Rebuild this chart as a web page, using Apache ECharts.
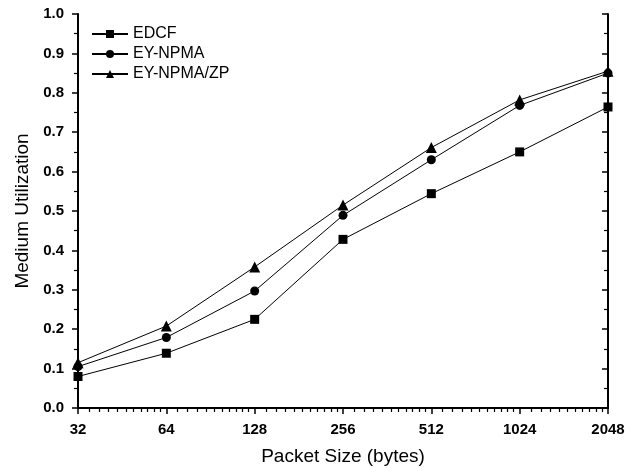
<!DOCTYPE html>
<html>
<head>
<meta charset="utf-8">
<title>Medium Utilization</title>
<script src="https://cdn.jsdelivr.net/npm/echarts@6/dist/echarts.min.js"></script>
<style>
  body { margin: 0; background: #fff; }
  #main { width: 634px; height: 468px; }
</style>
</head>
<body>
<div id="main"></div>
<script>
// packet sizes (bytes), log2 x axis
var packetSizes = [32, 64, 128, 256, 512, 1024, 2048];

var edcf     = [0.080, 0.139, 0.225, 0.428, 0.544, 0.650, 0.764];
var eyNpma   = [0.105, 0.179, 0.297, 0.489, 0.630, 0.768, 0.850];
var eyNpmaZp = [0.115, 0.208, 0.358, 0.515, 0.661, 0.782, 0.855];

var seriesNames = ['EDCF', 'EY-NPMA', 'EY-NPMA/ZP'];
var seriesSymbols = ['rect', 'circle', 'triangle'];

function pairs(vals) {
  return packetSizes.map(function (x, i) { return [x, vals[i]]; });
}

var font = 'Liberation Sans, Arial, sans-serif';
var chart = echarts.init(document.getElementById('main'));

var series = [edcf, eyNpma, eyNpmaZp].map(function (vals, i) {
  return {
    name: seriesNames[i],
    type: 'line',
    data: pairs(vals),
    symbol: seriesSymbols[i],
    symbolSize: i === 2 ? 11 : 9,
    clip: false,
    lineStyle: { color: '#000', width: 1 },
    itemStyle: { color: '#000' }
  };
});

chart.setOption({
  animation: false,
  backgroundColor: '#fff',
  grid: { left: 78, right: 26, top: 14, bottom: 60, outerBoundsMode: 'none' },
  legend: {
    orient: 'vertical',
    left: 86,
    top: 21,
    itemWidth: 36,
    itemHeight: 10,
    itemGap: 4,
    textStyle: { fontFamily: font, fontSize: 16, color: '#000' },
    data: seriesNames
  },
  xAxis: [{
    type: 'log',
    logBase: 2,
    min: 32,
    max: 2048,
    name: 'Packet Size (bytes)',
    nameLocation: 'middle',
    nameGap: 39,
    nameTextStyle: { fontFamily: font, fontSize: 19, color: '#000' },
    axisLine: { lineStyle: { color: '#000', width: 2 } },
    axisTick: { show: true, inside: false, length: 6, lineStyle: { color: '#000', width: 1.5 } },
    minorTick: { show: true, splitNumber: 11, length: 4, lineStyle: { color: '#000', width: 1.2 } },
    axisLabel: {
      fontFamily: font, fontSize: 15, fontWeight: 'bold', color: '#000', margin: 14,
      formatter: function (v) { return String(Math.round(v)); }
    },
    splitLine: { show: false }
  }, {
    type: 'log',
    logBase: 2,
    min: 32,
    max: 2048,
    position: 'top',
    axisLine: { lineStyle: { color: '#000', width: 2 } },
    axisTick: { show: false },
    axisLabel: { show: false },
    splitLine: { show: false }
  }],
  yAxis: [{
    type: 'value',
    min: 0,
    max: 1.0,
    interval: 0.1,
    name: 'Medium Utilization',
    nameLocation: 'middle',
    nameGap: 46,
    nameTextStyle: { fontFamily: font, fontSize: 19, color: '#000' },
    axisLine: { show: true, lineStyle: { color: '#000', width: 2 } },
    axisTick: { show: true, inside: false, length: 6, lineStyle: { color: '#000', width: 1.5 } },
    minorTick: { show: true, splitNumber: 2, length: 4, lineStyle: { color: '#000', width: 1.2 } },
    axisLabel: {
      fontFamily: font, fontSize: 15, fontWeight: 'bold', color: '#000', margin: 14,
      formatter: function (v) { return v.toFixed(1); }
    },
    splitLine: { show: false }
  }, {
    type: 'value',
    min: 0,
    max: 1.0,
    interval: 0.1,
    position: 'right',
    axisLine: { show: true, lineStyle: { color: '#000', width: 2 } },
    axisTick: { show: true, inside: true, length: 6, lineStyle: { color: '#000', width: 1.5 } },
    minorTick: { show: true, splitNumber: 2, length: 4, lineStyle: { color: '#000', width: 1.2 } },
    axisLabel: { show: false },
    splitLine: { show: false }
  }],
  series: series
});
</script>
</body>
</html>
